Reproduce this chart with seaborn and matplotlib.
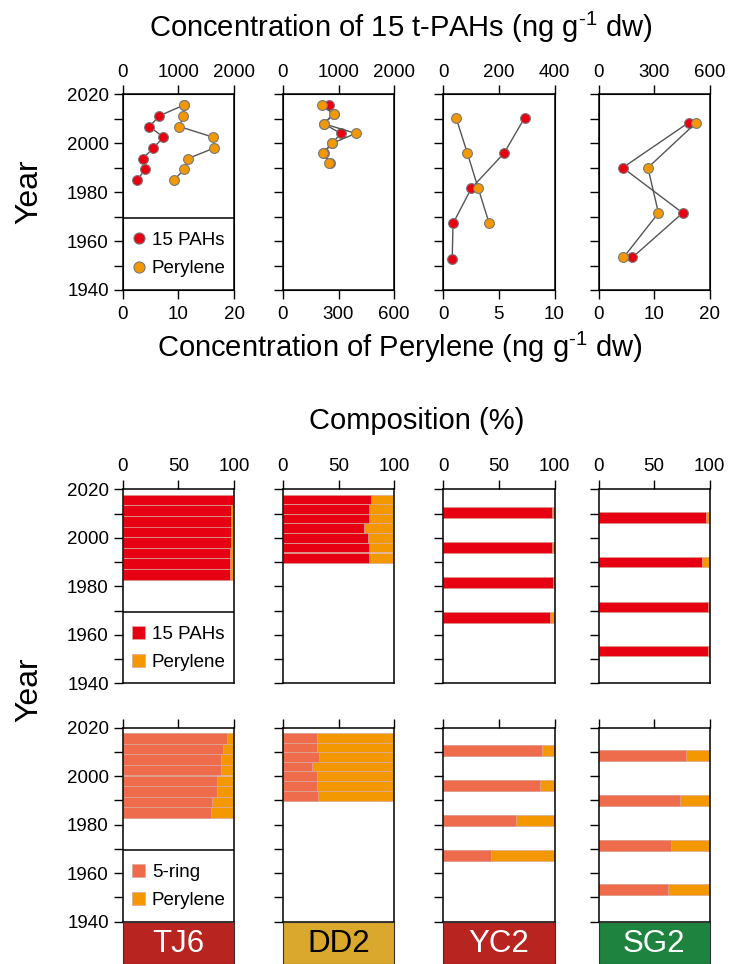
import numpy as np
import pandas as pd
import matplotlib
matplotlib.use("Agg")
import matplotlib.pyplot as plt
from matplotlib.lines import Line2D
from matplotlib.patches import Patch
import seaborn as sns

# ------------------------------------------------------------------ data
cores = ["TJ6", "DD2", "YC2", "SG2"]

tj6_years = [2015.6, 2011.2, 2006.8, 2002.5, 1998.0, 1993.7, 1989.3, 1985.0]
tj6_pahs = [1100, 659, 479, 731, 551, 359, 401, 263]
tj6_perylene = [11.0, 10.9, 10.2, 16.2, 16.4, 11.7, 11.1, 9.2]
tj6_pct_pahs = [98.8, 97.6, 97.6, 97.6, 97.0, 96.4, 96.4, 96.4]
tj6_pct_5ring = [94.0, 90.4, 88.0, 88.0, 84.9, 84.9, 80.4, 79.5]

dd2_years = [2015.8, 2011.8, 2008.0, 2004.0, 2000.0, 1996.0, 1991.8]
dd2_pahs = [832, 920, 730, 1042, 886, 730, 850]
dd2_perylene = [210, 273, 219, 393, 266, 216, 251]
dd2_pct_pahs = [79.3, 77.5, 77.5, 72.6, 76.6, 77.5, 77.5]
dd2_pct_5ring = [30.3, 30.3, 32.4, 26.4, 30.3, 30.3, 31.8]

yc2_years = [2010.5, 1996.0, 1981.6, 1967.2, 1952.7]
yc2_pahs = [293, 219, 101, 35, 32]
yc2_perylene = [1.14, 2.16, 3.14, 4.13, np.nan]
yc2_pct_pahs = [97.9, 97.9, 98.8, 95.8]
yc2_pct_5ring = [89.2, 87.1, 65.8, 42.6]

sg2_years = [2008.4, 1990.0, 1971.5, 1953.3]
sg2_pahs = [487, 131, 455, 183]
sg2_perylene = [17.6, 8.9, 10.8, 4.5]
sg2_pct_pahs = [96.7, 93.6, 98.2, 98.2]
sg2_pct_5ring = [79.0, 73.6, 65.7, 62.6]

tj6_pahs_ticks = [0, 1000, 2000]
dd2_pahs_ticks = [0, 1000, 2000]
yc2_pahs_ticks = [0, 200, 400]
sg2_pahs_ticks = [0, 300, 600]
tj6_per_ticks = [0, 10, 20]
dd2_per_ticks = [0, 300, 600]
yc2_per_ticks = [0, 5, 10]
sg2_per_ticks = [0, 10, 20]
pct_ticks = [0, 50, 100]
year_ticks = [1940, 1950, 1960, 1970, 1980, 1990, 2000, 2010, 2020]
year_labels = ["1940", "", "1960", "", "1980", "", "2000", "", "2020"]

# ------------------------------------------------------------------ style
sns.set_style("ticks")
plt.rcParams["font.family"] = ["Liberation Sans", "DejaVu Sans"]
plt.rcParams["mathtext.fontset"] = "custom"
plt.rcParams["mathtext.rm"] = "Liberation Sans"
plt.rcParams["mathtext.default"] = "regular"
for key in ["text.color", "axes.labelcolor", "xtick.color", "ytick.color",
            "xtick.labelcolor", "ytick.labelcolor", "axes.edgecolor"]:
    plt.rcParams[key] = "black"

RED = "#e60012"
ORANGE = "#f39800"
CORAL = "#ee6c4b"
LINE = "#555555"
MEDGE = "#7a7a7a"
BAR_EDGE = "#dca8a0"
BOX_COLORS = ["#b8241f", "#d9a82c", "#b8241f", "#1d833f"]
BOX_TEXT = ["white", "black", "white", "white"]
BAR_H = [4.4, 4.0, 4.6, 4.4]
LEGEND_TOP = 1969.6
TICK_FS = 13.5

W, H = 732, 964
fig = plt.figure(figsize=(W / 100, H / 100), dpi=100)

COLS = [(122.7, 234.0), (283.0, 394.0), (443.3, 554.5), (598.5, 709.5)]
ROWS = [(94.3, 290.0), (489.3, 683.3), (727.7, 921.7)]


def fax(x0, y0, x1, y1):
    return fig.add_axes([x0 / W, 1 - y1 / H, (x1 - x0) / W, (y1 - y0) / H])


def style_axis(ax, col):
    ax.set_ylim(1940, 2020)
    ax.set_yticks(year_ticks)
    ax.set_yticklabels(year_labels if col == 0 else [""] * len(year_ticks))
    ax.tick_params(axis="both", direction="out", length=6.5, width=1.0,
                   labelsize=TICK_FS, pad=3.5, color="black", labelcolor="black")
    for s in ax.spines.values():
        s.set_visible(True)
        s.set_color("black")
        s.set_linewidth(1.1)
    ax.set_ylabel("")


def add_legend(ax, handles, height_px):
    ax.axhline(LEGEND_TOP, color="black", lw=1.1, zorder=5)
    ax.legend(handles=handles, loc="upper left",
              bbox_to_anchor=(0.0, (LEGEND_TOP - 1940) / 80 - 4.7 / height_px),
              frameon=False, fontsize=TICK_FS, borderpad=0.5, borderaxespad=0.0,
              handlelength=0.7, handleheight=0.7, handletextpad=0.35,
              labelspacing=0.6)


years_all = [tj6_years, dd2_years, yc2_years, sg2_years]
pahs_all = [tj6_pahs, dd2_pahs, yc2_pahs, sg2_pahs]
per_all = [tj6_perylene, dd2_perylene, yc2_perylene, sg2_perylene]
pahs_ticks_all = [tj6_pahs_ticks, dd2_pahs_ticks, yc2_pahs_ticks, sg2_pahs_ticks]
per_ticks_all = [tj6_per_ticks, dd2_per_ticks, yc2_per_ticks, sg2_per_ticks]
pct_pahs_all = [tj6_pct_pahs, dd2_pct_pahs, yc2_pct_pahs, sg2_pct_pahs]
pct_5ring_all = [tj6_pct_5ring, dd2_pct_5ring, yc2_pct_5ring, sg2_pct_5ring]

# ------------------------------------------------------------------ top row
for i, core in enumerate(cores):
    x0, x1 = COLS[i]
    y0, y1 = ROWS[0]
    ax = fax(x0, y0, x1, y1)          # perylene (bottom axis)
    tw = ax.twiny()                   # 15 PAHs (top axis)
    df = pd.DataFrame({"year": years_all[i], "pahs": pahs_all[i], "per": per_all[i]})
    sns.lineplot(data=df, x="pahs", y="year", orient="y", estimator=None,
                 color=LINE, lw=1.0, ax=tw, zorder=2)
    sns.scatterplot(data=df, x="pahs", y="year", color=RED, edgecolor=MEDGE,
                    linewidth=0.8, s=50, ax=tw, zorder=3)
    dfp = df.dropna(subset=["per"])
    sns.lineplot(data=dfp, x="per", y="year", orient="y", estimator=None,
                 color=LINE, lw=1.0, ax=ax, zorder=2)
    sns.scatterplot(data=dfp, x="per", y="year", color=ORANGE, edgecolor=MEDGE,
                    linewidth=0.8, s=50, ax=ax, zorder=3)
    ax.set_zorder(tw.get_zorder() + 1)
    ax.patch.set_visible(False)

    tw.set_xlim(0, pahs_ticks_all[i][-1])
    tw.set_xticks(pahs_ticks_all[i])
    ax.set_xlim(0, per_ticks_all[i][-1])
    ax.set_xticks(per_ticks_all[i])
    style_axis(ax, i)
    tw.tick_params(axis="x", direction="out", length=6.5, width=1.0,
                   labelsize=TICK_FS, pad=3, color="black", labelcolor="black")
    ax.tick_params(axis="x", pad=5)
    tw.set_xlabel("")
    ax.set_xlabel("")
    if i == 0:
        add_legend(ax, [
            Line2D([], [], ls="", marker="o", ms=8, mfc=RED, mec=MEDGE, mew=0.8, label="15 PAHs"),
            Line2D([], [], ls="", marker="o", ms=8, mfc=ORANGE, mec=MEDGE, mew=0.8, label="Perylene"),
        ], y1 - y0)

# ------------------------------------------------------------------ composition rows
for row, (pcts, main_color, labels) in enumerate([
        (pct_pahs_all, RED, ["15 PAHs", "Perylene"]),
        (pct_5ring_all, CORAL, ["5-ring", "Perylene"])]):
    y0, y1 = ROWS[row + 1]
    for i, core in enumerate(cores):
        x0, x1 = COLS[i]
        ax = fax(x0, y0, x1, y1)
        pct = pcts[i]
        yrs = years_all[i][:len(pct)]
        df = pd.DataFrame({"year": yrs, "main": pct, "total": [100.0] * len(pct)})
        w = BAR_H[i] / np.min(np.diff(np.sort(yrs)))
        sns.barplot(data=df, x="total", y="year", orient="y", native_scale=True,
                    color=ORANGE, saturation=1, width=w, errorbar=None,
                    edgecolor=BAR_EDGE, linewidth=0.5, ax=ax)
        sns.barplot(data=df, x="main", y="year", orient="y", native_scale=True,
                    color=main_color, saturation=1, width=w, errorbar=None,
                    edgecolor=BAR_EDGE, linewidth=0.5, ax=ax)
        ax.set_xlim(0, 100)
        ax.xaxis.tick_top()
        ax.set_xticks(pct_ticks)
        style_axis(ax, i)
        ax.set_xlabel("")
        if row == 1:
            ax.set_xticklabels([])
        if i == 0:
            add_legend(ax, [
                Patch(facecolor=main_color, edgecolor=BAR_EDGE, lw=0.5, label=labels[0]),
                Patch(facecolor=ORANGE, edgecolor=BAR_EDGE, lw=0.5, label=labels[1])],
                y1 - y0)

# ------------------------------------------------------------------ core label boxes
for i, core in enumerate(cores):
    x0, x1 = COLS[i]
    bx = fax(x0, 921.7, x1, 964)
    bx.set_facecolor(BOX_COLORS[i])
    bx.set_xticks([])
    bx.set_yticks([])
    for s in bx.spines.values():
        s.set_color("#333333")
        s.set_linewidth(0.8)
    bx.text(0.5, 0.47, core, transform=bx.transAxes, ha="center", va="center",
            color=BOX_TEXT[i], fontsize=22.5)

# ------------------------------------------------------------------ titles
SUP = "$^{\u2010 1}$"
fig.text(401 / W, 1 - 27 / H, "Concentration of 15 t-PAHs (ng g" + SUP + " dw)",
         ha="center", va="center", fontsize=21)
fig.text(400 / W, 1 - 347 / H, "Concentration of Perylene (ng g" + SUP + " dw)",
         ha="center", va="center", fontsize=21)
fig.text(417 / W, 1 - 421 / H, "Composition (%)", ha="center", va="center", fontsize=21)
fig.text(29 / W, 1 - 192 / H, "Year", rotation=90, ha="center", va="center",
         fontsize=23)
fig.text(29 / W, 1 - 690 / H, "Year", rotation=90, ha="center", va="center",
         fontsize=23)

fig.savefig("out.png", dpi=100, facecolor="white")
